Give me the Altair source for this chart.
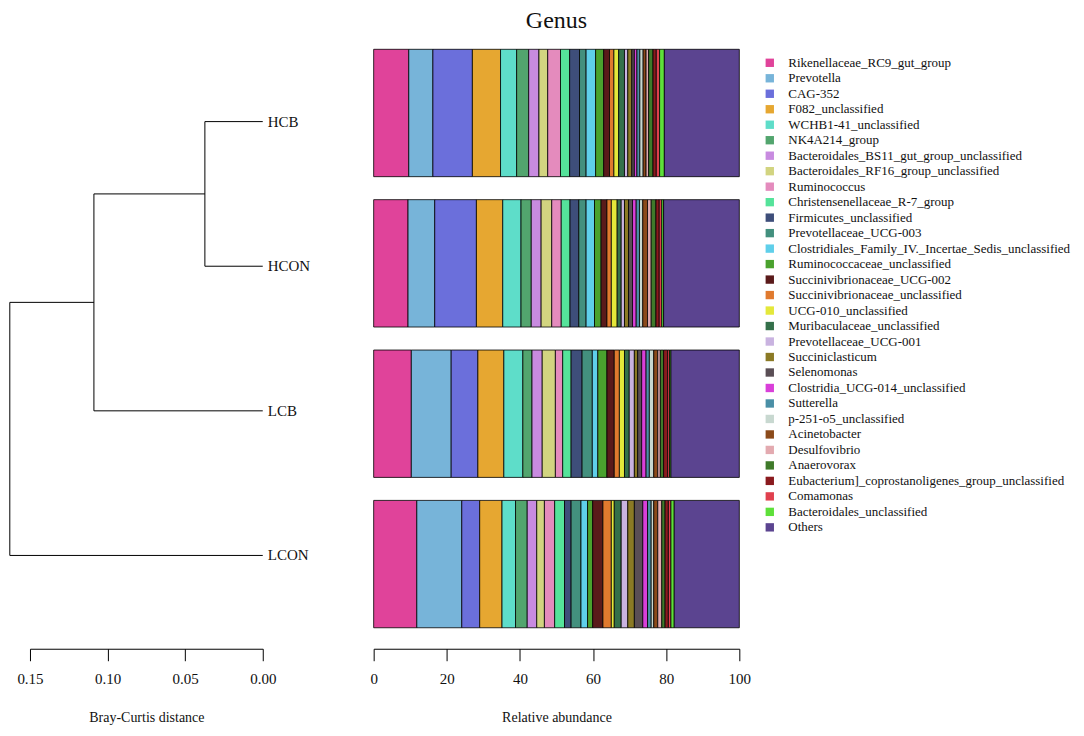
import altair as alt
import pandas as pd

SERIF = "Liberation Serif"

samples = ["HCB", "HCON", "LCB", "LCON"]

genera = [
    "Rikenellaceae_RC9_gut_group", "Prevotella", "CAG-352", "F082_unclassified",
    "WCHB1-41_unclassified", "NK4A214_group", "Bacteroidales_BS11_gut_group_unclassified",
    "Bacteroidales_RF16_group_unclassified", "Ruminococcus", "Christensenellaceae_R-7_group",
    "Firmicutes_unclassified", "Prevotellaceae_UCG-003",
    "Clostridiales_Family_IV._Incertae_Sedis_unclassified", "Ruminococcaceae_unclassified",
    "Succinivibrionaceae_UCG-002", "Succinivibrionaceae_unclassified", "UCG-010_unclassified",
    "Muribaculaceae_unclassified", "Prevotellaceae_UCG-001", "Succiniclasticum", "Selenomonas",
    "Clostridia_UCG-014_unclassified", "Sutterella", "p-251-o5_unclassified", "Acinetobacter",
    "Desulfovibrio", "Anaerovorax", "Eubacterium]_coprostanoligenes_group_unclassified",
    "Comamonas", "Bacteroidales_unclassified", "Others",
]

colors = [
    "#E0439A", "#77B4D9", "#6B6FDB", "#E6A731", "#5EDDC9", "#52A56E", "#C88BE0",
    "#D2D480", "#E48BBD", "#55E39A", "#3E4E7A", "#43907E", "#5FCFEA", "#4AA22E",
    "#5A1A1A", "#E07A2E", "#E4E83A", "#34704A", "#C9B3E0", "#8B7A25", "#5A4E55",
    "#D93FD9", "#4A8FA6", "#C8D8D0", "#8B4A1A", "#E3AAB0", "#3F7A2A", "#8A1A1E",
    "#E0404E", "#5EE03A", "#5B4490",
]

hcb = [9.6, 6.6, 10.8, 7.7, 4.4, 3.3, 2.8, 2.4, 3.5, 2.5, 2.7, 1.8, 2.6, 2.2, 1.6, 1.2,
       1.3, 1.6, 0.9, 1.1, 0.7, 0.7, 0.8, 0.9, 0.8, 0.7, 1.2, 0.9, 0.9, 1.3, 20.5]
hcon = [9.4, 7.3, 11.4, 7.2, 5.0, 2.8, 2.7, 2.9, 2.6, 2.4, 2.4, 2.0, 2.3, 1.8, 1.6, 1.2,
        1.6, 1.1, 0.9, 1.1, 1.1, 1.0, 0.9, 0.9, 1.3, 1.0, 1.3, 0.9, 0.7, 0.5, 20.7]
lcb = [10.3, 10.9, 7.3, 7.1, 5.2, 2.5, 2.8, 3.6, 2.0, 2.3, 3.0, 2.8, 1.5, 2.5, 2.0, 1.4,
       1.4, 1.3, 1.4, 0.9, 1.1, 1.2, 0.9, 1.2, 1.1, 0.7, 0.9, 1.1, 0.5, 0.4, 18.7]
lcon = [11.8, 12.3, 4.9, 6.1, 3.7, 3.2, 2.6, 2.1, 2.8, 2.7, 1.8, 2.7, 1.8, 1.4, 2.8, 2.3,
        0.8, 1.9, 1.8, 1.8, 2.3, 1.3, 1.0, 0.7, 1.1, 1.1, 0.9, 0.9, 0.7, 0.9, 17.8]

# Bray-Curtis merge heights: (HCB,HCON), (+LCB), (+LCON)
merge_heights = [0.0373, 0.1088, 0.163]

dist_ticks = [0.15, 0.10, 0.05, 0.00]
abund_ticks = [0, 20, 40, 60, 80, 100]

# ---- bar data ----
rows = []
for s, vals in zip(samples, [hcb, hcon, lcb, lcon]):
    for i, (g, v) in enumerate(zip(genera, vals)):
        rows.append({"sample": s, "genus": g, "value": v, "order": i})
df = pd.DataFrame(rows)

# ---- dendrogram segments ----
h1, h2, h3 = merge_heights
p1 = (0 + 1) / 2
p2 = (p1 + 2) / 2
segs = [
    (0, h1, 0, 0), (0, h1, 1, 1), (h1, h1, 0, 1),
    (h1, h2, p1, p1), (0, h2, 2, 2), (h2, h2, p1, 2),
    (h2, h3, p2, p2), (0, h3, 3, 3), (h3, h3, p2, 3),
]
seg_df = pd.DataFrame(segs, columns=["x1", "x2", "y1", "y2"])
leaf_df = pd.DataFrame({"sample": samples, "h": [0.0] * 4, "pos": list(range(4))})

xs_d = alt.Scale(domain=[0, 0.15], reverse=True, nice=False, zero=False)
ys_d = alt.Scale(domain=[-0.5, 3.5], reverse=True, nice=False, zero=False)

rules = alt.Chart(seg_df).mark_rule(color="black", strokeWidth=1).encode(
    x=alt.X("x1:Q", scale=xs_d,
            axis=alt.Axis(values=dist_ticks, format=".2f"),
            title="Bray-Curtis distance"),
    x2="x2:Q",
    y=alt.Y("y1:Q", scale=ys_d, axis=None),
    y2="y2:Q",
)
labels = alt.Chart(leaf_df).mark_text(
    align="left", baseline="middle", dx=5, font=SERIF, fontSize=15, color="#111"
).encode(
    x=alt.X("h:Q", scale=xs_d),
    y=alt.Y("pos:Q", scale=ys_d),
    text="sample:N",
)
dendro = alt.layer(rules, labels).properties(width=233, height=579)

bars = alt.Chart(df).mark_bar(stroke="black", strokeWidth=0.8).encode(
    x=alt.X("value:Q", stack="zero",
            scale=alt.Scale(domain=[0, 100], nice=False),
            axis=alt.Axis(values=abund_ticks, format="d"),
            title="Relative abundance"),
    y=alt.Y("sample:N", sort=samples, axis=None,
            scale=alt.Scale(paddingInner=0.153, paddingOuter=0)),
    color=alt.Color("genus:N", sort=genera,
                    scale=alt.Scale(domain=genera, range=colors),
                    legend=alt.Legend(title=None, orient="none", legendX=734, legendY=7,
                                      symbolType="square", symbolSize=70,
                                      symbolStrokeWidth=0, labelFont=SERIF,
                                      labelFontSize=13, labelColor="#111",
                                      labelOffset=12, rowPadding=1.5,
                                      symbolLimit=50, labelLimit=400)),
    order=alt.Order("order:Q", sort="ascending"),
).properties(
    width=366, height=579,
    title=alt.TitleParams("Genus", font=SERIF, fontSize=24, fontWeight="normal",
                          color="#111", anchor="middle", offset=16),
)

chart = alt.hconcat(
    dendro, bars, spacing=111, bounds="flush",
    padding={"left": 1, "top": 0, "right": 5, "bottom": 5},
).configure_view(strokeWidth=0).configure_axis(
    domainColor="black", tickColor="black", domainWidth=1, tickWidth=1,
    tickSize=12, offset=21, grid=False, labelFont=SERIF, labelFontSize=15,
    labelColor="#111", labelPadding=11, labelFlush=False,
    titleFont=SERIF, titleFontSize=14, titleFontWeight="normal",
    titleColor="#111", titlePadding=24,
)

chart.save("out.html", embed_options={"renderer": "svg", "actions": False})
